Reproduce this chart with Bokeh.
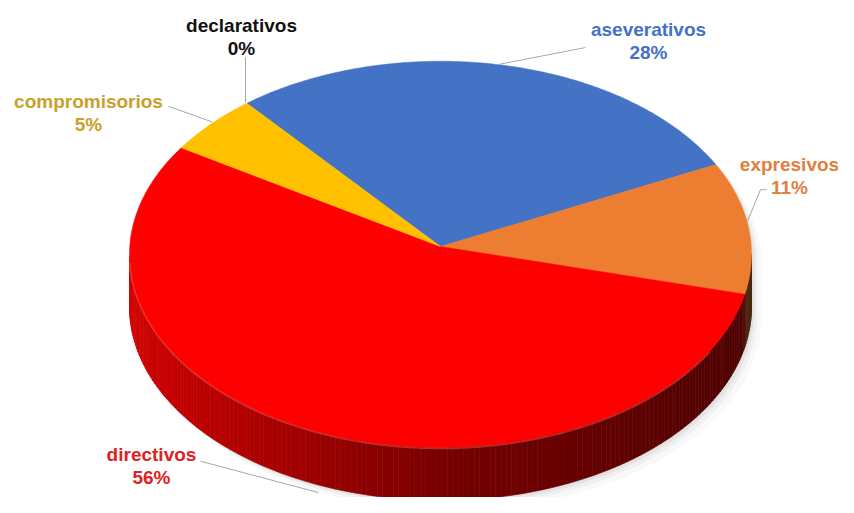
import numpy as np
from bokeh.plotting import figure
from bokeh.models import Range1d, ColumnDataSource
from bokeh.embed import file_html
from bokeh.resources import INLINE
from bokeh.core.properties import value

# ---- data (clockwise order, starting at the top-left) ----
categories = ["declarativos", "aseverativos", "expresivos", "directivos", "compromisorios"]
percents = [0, 28, 11, 56, 5]
pct_labels = ["0%", "28%", "11%", "56%", "5%"]
slice_colors = ["#A5A5A5", "#4472C4", "#ED7D31", "#FF0000", "#FFC000"]
label_colors = ["#111111", "#4472C4", "#E0803C", "#E02222", "#C9A02A"]

# ---- geometry / layout (pixel frame of the reference) ----
CX, CY = 440, 259
RX, RY = 311, 197
APX, APY = 440, 251
DEPTH = 54
START = 128.5

label_pos = [(241, 25), (648, 30), (789, 167), (151, 463), (88, 103)]
leaders = [
    [(245, 58), (245, 104)],
    [(585, 48), (499, 65)],
    [(766, 193), (760, 193), (747, 225)],
    [(200, 470), (318, 502)],
    [(168, 108), (212, 124)],
]

W, H = 838, 497
p = figure(width=W, height=H, x_range=Range1d(0, W), y_range=Range1d(507, 0),
           output_backend="svg", toolbar_location=None, min_border=0,
           x_axis_location=None, y_axis_location=None)
p.grid.visible = False
p.outline_line_color = None
p.background_fill_color = "white"
p.border_fill_color = "white"


def rim(t):
    r = np.radians(t)
    return CX + RX * np.cos(r), CY - RY * np.sin(r)


def shade(hexcol, f):
    h = hexcol.lstrip("#")
    r, g, b = (int(h[i:i + 2], 16) for i in (0, 2, 4))
    return "#%02x%02x%02x" % (int(r * f), int(g * f), int(b * f))


def light(theta_rad):
    c = np.cos(theta_rad)
    return 0.47 - 0.35 * c if c < 0 else 0.47 - 0.16 * c


# angles of slices
bounds = []
a = START
for v in percents:
    a1 = a - v * 3.6
    bounds.append((a1, a))
    a = a1

# ---- soft shadow ----
for off, alpha in [(10, 0.025), (6, 0.035), (3, 0.05)]:
    xs, ys = [], []
    for t in np.linspace(0, 180, 91):
        x, y = rim(t)
        xs.append(x + off); ys.append(y + off)
    for t in np.linspace(180, 360, 91):
        x, y = rim(t)
        xs.append(x + off); ys.append(y + DEPTH + off)
    p.patch(xs, ys, fill_color="black", fill_alpha=alpha, line_color=None)

# ---- side wall ----
sx, sy, sc = [], [], []
for (a1, a0), col in zip(bounds, slice_colors):
    if a0 - a1 <= 0:
        continue
    edges = np.linspace(a1, a0, max(3, int((a0 - a1) / 1.0) + 2))
    for t0, t1 in zip(edges[:-1], edges[1:]):
        mid = (t0 + t1) / 2
        k = np.floor(mid / 360.0) * 360
        u0, u1 = t0 - k, t1 - k
        if (u0 + u1) / 2 < 180:
            continue
        u0, u1 = max(u0, 180), min(u1, 360)
        if u1 <= u0:
            continue
        x0, y0 = rim(u0)
        x1, y1 = rim(u1)
        f = light(np.radians((u0 + u1) / 2))
        sx.append([x0, x1, x1, x0])
        sy.append([y0, y1, y1 + DEPTH, y0 + DEPTH])
        sc.append(shade(col, f))
p.patches(sx, sy, fill_color=sc, line_color=sc, line_width=0.6)

# ---- top face ----
tx, ty, tc = [], [], []
for (a1, a0), col in zip(bounds, slice_colors):
    if a0 - a1 <= 0:
        continue
    ang = np.linspace(a0, a1, max(4, int((a0 - a1) / 0.5)))
    xr, yr = rim(ang)
    tx.append([APX] + list(xr))
    ty.append([APY] + list(yr))
    tc.append(col)
p.patches(tx, ty, fill_color=tc, line_color=tc, line_width=0.5)

# rim highlight on the front edge
ang = np.linspace(182, 330, 120)
hx, hy = rim(ang)
p.line(hx, hy + 1, line_color="#ff7070", line_alpha=0.4, line_width=1.5)

# ---- leader lines ----
for pts in leaders:
    p.line([q[0] for q in pts], [q[1] for q in pts], line_color="#A6A6A6", line_width=1)

# ---- labels ----
src = ColumnDataSource(dict(
    x=[q[0] for q in label_pos],
    y=[q[1] for q in label_pos],
    y2=[q[1] + 23.5 for q in label_pos],
    name=categories, pct=pct_labels, col=label_colors))
for field, ycol in [("name", "y"), ("pct", "y2")]:
    p.text(x="x", y=ycol, text=field, source=src, text_color="col",
           text_font=value("Liberation Sans"), text_font_style="bold",
           text_font_size="19px", text_align="center", text_baseline="middle")

open("out.html", "w").write(file_html(p, INLINE))
